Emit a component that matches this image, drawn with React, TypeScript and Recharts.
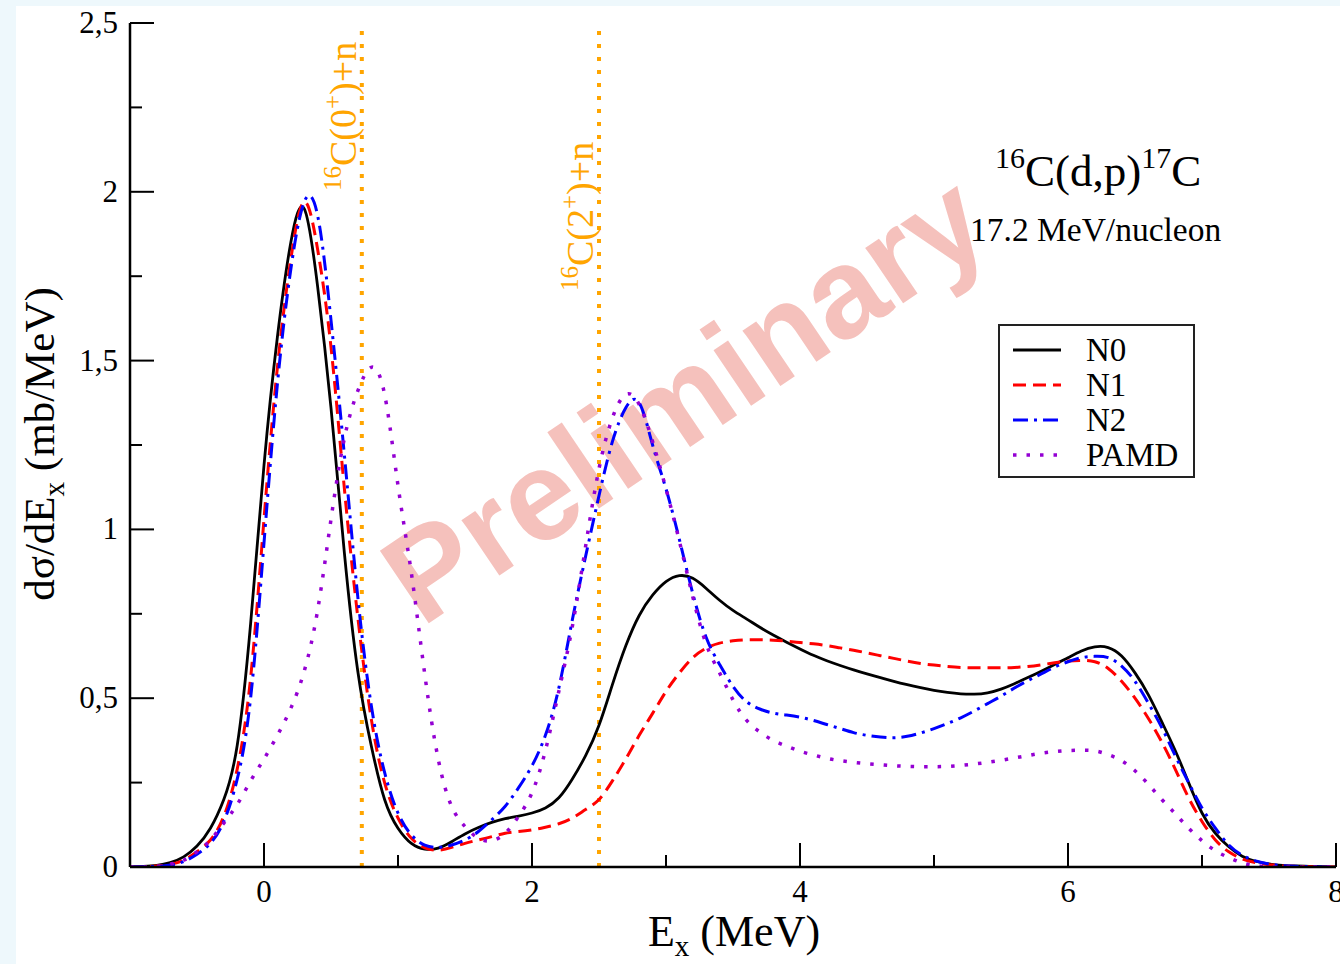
import React from 'react';
import { LineChart, Line, XAxis, YAxis, ReferenceLine, Legend, Customized } from 'recharts';

// Excitation energy grid (MeV)
const energy = [
  -1.0, -0.9, -0.8, -0.7, -0.6, -0.5, -0.4, -0.3, -0.2, -0.1,
  0.0, 0.1, 0.2, 0.3, 0.4, 0.5, 0.6, 0.7, 0.8, 0.9,
  1.0, 1.1, 1.2, 1.3, 1.4, 1.5, 1.6, 1.7, 1.8, 1.9,
  2.0, 2.1, 2.2, 2.3, 2.4, 2.5, 2.6, 2.7, 2.8, 2.9,
  3.0, 3.1, 3.2, 3.3, 3.4, 3.5, 3.6, 3.7, 3.8, 3.9,
  4.0, 4.1, 4.2, 4.3, 4.4, 4.5, 4.6, 4.7, 4.8, 4.9,
  5.0, 5.1, 5.2, 5.3, 5.4, 5.5, 5.6, 5.7, 5.8, 5.9,
  6.0, 6.1, 6.2, 6.3, 6.4, 6.5, 6.6, 6.7, 6.8, 6.9,
  7.0, 7.1, 7.2, 7.3, 7.4, 7.5, 7.6, 7.7, 7.8, 7.9,
  8.0,
];

const n0 = [
  0, 0.002, 0.005, 0.013, 0.03, 0.062, 0.115, 0.20, 0.36, 0.72,
  1.19, 1.57, 1.85, 1.95, 1.72, 1.36, 0.93, 0.58, 0.36, 0.20,
  0.115, 0.07, 0.053, 0.056, 0.075, 0.098, 0.117, 0.132, 0.143, 0.151,
  0.16, 0.175, 0.205, 0.26, 0.33, 0.42, 0.54, 0.655, 0.745, 0.805,
  0.845, 0.863, 0.855, 0.825, 0.79, 0.76, 0.735, 0.71, 0.687, 0.666,
  0.646, 0.627, 0.611, 0.597, 0.584, 0.572, 0.561, 0.55, 0.54, 0.531,
  0.523, 0.517, 0.513, 0.512, 0.516, 0.527, 0.543, 0.561, 0.58, 0.60,
  0.62, 0.64, 0.652, 0.65, 0.625, 0.575, 0.51, 0.43, 0.345, 0.25,
  0.16, 0.10, 0.06, 0.032, 0.017, 0.009, 0.005, 0.003, 0.002, 0.001,
  0,
];

const n1 = [
  0, 0.001, 0.003, 0.008, 0.02, 0.045, 0.08, 0.15, 0.29, 0.56,
  1.03, 1.48, 1.80, 1.97, 1.83, 1.54, 1.12, 0.74, 0.44, 0.25,
  0.145, 0.085, 0.057, 0.05, 0.058, 0.07, 0.08, 0.09, 0.10, 0.105,
  0.11, 0.118, 0.128, 0.145, 0.17, 0.20, 0.255, 0.32, 0.39, 0.455,
  0.52, 0.575, 0.62, 0.648, 0.663, 0.67, 0.673, 0.673, 0.672, 0.669,
  0.665, 0.661, 0.656, 0.649, 0.642, 0.634, 0.626, 0.618, 0.61, 0.603,
  0.598, 0.594, 0.591, 0.59, 0.59, 0.59, 0.591, 0.594, 0.599, 0.605,
  0.61, 0.612, 0.608, 0.588, 0.55, 0.50, 0.44, 0.37, 0.29, 0.205,
  0.135, 0.08, 0.045, 0.024, 0.013, 0.007, 0.003, 0.002, 0.001, 0,
  0,
];

const n2 = [
  0, 0.001, 0.002, 0.006, 0.016, 0.038, 0.07, 0.135, 0.26, 0.50,
  0.96, 1.43, 1.77, 1.97, 1.93, 1.62, 1.22, 0.80, 0.48, 0.28,
  0.16, 0.095, 0.065, 0.058, 0.065, 0.08, 0.105, 0.14, 0.18, 0.235,
  0.30, 0.39, 0.53, 0.73, 0.92, 1.10, 1.26, 1.36, 1.375, 1.25,
  1.12, 0.97, 0.81, 0.68, 0.60, 0.535, 0.49, 0.468, 0.456, 0.45,
  0.444, 0.434, 0.422, 0.41, 0.398, 0.39, 0.385, 0.383, 0.387, 0.397,
  0.41, 0.425, 0.442, 0.462, 0.484, 0.506, 0.53, 0.552, 0.572, 0.592,
  0.608, 0.62, 0.624, 0.62, 0.595, 0.55, 0.485, 0.413, 0.33, 0.25,
  0.175, 0.115, 0.065, 0.035, 0.018, 0.009, 0.004, 0.002, 0.001, 0,
  0,
];

const pamd = [
  0, 0, 0.002, 0.008, 0.02, 0.045, 0.08, 0.13, 0.185, 0.255,
  0.32, 0.39, 0.47, 0.58, 0.76, 1.03, 1.27, 1.41, 1.48, 1.40,
  1.13, 0.87, 0.57, 0.32, 0.18, 0.12, 0.085, 0.078, 0.10, 0.15,
  0.22, 0.345, 0.52, 0.71, 0.95, 1.18, 1.33, 1.40, 1.37, 1.26,
  1.12, 0.965, 0.80, 0.66, 0.575, 0.495, 0.435, 0.40, 0.375, 0.358,
  0.343, 0.332, 0.322, 0.315, 0.31, 0.306, 0.303, 0.30, 0.298, 0.297,
  0.297, 0.298, 0.301, 0.305, 0.31, 0.316, 0.323, 0.33, 0.337, 0.342,
  0.345, 0.346, 0.344, 0.333, 0.315, 0.285, 0.245, 0.20, 0.158, 0.115,
  0.078, 0.048, 0.028, 0.012, 0.004, 0.001, 0, 0, 0, 0,
  0,
];

const xTicks = [-1, 0, 1, 2, 3, 4, 5, 6, 7, 8];
const yTicks = [0, 0.25, 0.5, 0.75, 1, 1.25, 1.5, 1.75, 2, 2.25, 2.5];
const thresholds = [0.73, 2.5];
const thresholdLabels = [['16', 'C(0', '+', ')+n'], ['16', 'C(2', '+', ')+n']];

const seriesNames = ['N0', 'N1', 'N2', 'PAMD'];
const seriesKeys = ['n0', 'n1', 'n2', 'pamd'];
const seriesColors = ['#000000', '#ff0000', '#0000ff', '#9400d3'];
const seriesDashes = ['', '13 7', '15 6 3 6', '3.5 10'];
const seriesWidths = [2.8, 3, 3, 3.5];

const SERIF = '"Liberation Serif", "Times New Roman", serif';
const SANS = '"Liberation Sans", Arial, sans-serif';

const isMajorX = (v: number) => Math.abs(v % 2) < 1e-9;
const isMajorY = (v: number) => Math.abs((v * 2) % 1) < 1e-9;
const fmtY = (v: number) => String(v).replace('.', ',');

const BottomTick = (props: any) => {
  const { x, y, payload } = props;
  const v = payload.value;
  const major = isMajorX(v);
  return (
    <g>
      <line x1={x} y1={y} x2={x} y2={y - (major ? 24 : 12)} stroke="#000" strokeWidth={2} />
      {major && (
        <text x={x} y={y + 35} textAnchor="middle" fontSize={31} fontFamily={SERIF} fill="#000">
          {v}
        </text>
      )}
    </g>
  );
};

const TopTick = (props: any) => {
  const { x, y, payload } = props;
  const major = isMajorX(payload.value);
  return <line x1={x} y1={y} x2={x} y2={y + (major ? 24 : 12)} stroke="#000" strokeWidth={2} />;
};

const LeftTick = (props: any) => {
  const { x, y, payload } = props;
  const v = payload.value;
  const major = isMajorY(v);
  return (
    <g>
      <line x1={x} y1={y} x2={x + (major ? 24 : 12)} y2={y} stroke="#000" strokeWidth={2} />
      {major && (
        <text x={x - 12} y={y + 10} textAnchor="end" fontSize={31} fontFamily={SERIF} fill="#000">
          {fmtY(v)}
        </text>
      )}
    </g>
  );
};

const RightTick = (props: any) => {
  const { x, y, payload } = props;
  const major = isMajorY(payload.value);
  return <line x1={x} y1={y} x2={x - (major ? 24 : 12)} y2={y} stroke="#000" strokeWidth={2} />;
};

const thresholdLabel = (parts: string[], dyStart: number) => (props: any) => {
  const vb = props.viewBox || {};
  const x = (vb.x ?? 0) - 6;
  const y = (vb.y ?? 0) + dyStart;
  return (
    <text
      transform={`translate(${x},${y}) rotate(-90)`}
      fontFamily={SERIF}
      fontSize={38}
      fill="#ffa500"
    >
      <tspan fontSize={25} dy={-15}>{parts[0]}</tspan>
      <tspan dy={15}>{parts[1]}</tspan>
      <tspan fontSize={25} dy={-15}>{parts[2]}</tspan>
      <tspan dy={15}>{parts[3]}</tspan>
    </text>
  );
};

const Annotations = () => (
  <g>
    <text x={979} y={180} fontFamily={SERIF} fontSize={45} fill="#000">
      <tspan fontSize={30} dy={-18}>16</tspan>
      <tspan dy={18}>C(d,p)</tspan>
      <tspan fontSize={30} dy={-18}>17</tspan>
      <tspan dy={18}>C</tspan>
    </text>
    <text x={954} y={235} fontFamily={SERIF} fontSize={33.5} fill="#000">
      17.2 MeV/nucleon
    </text>
    <text x={718} y={940} textAnchor="middle" fontFamily={SERIF} fontSize={44} fill="#000">
      E<tspan fontSize={29} dy={10}>x</tspan>
      <tspan dy={-10}> (MeV)</tspan>
    </text>
    <text
      transform="translate(38,438) rotate(-90)"
      textAnchor="middle"
      fontFamily={SERIF}
      fontSize={43}
      fill="#000"
    >
      dσ/dE<tspan fontSize={29} dy={10}>x</tspan>
      <tspan dy={-10}> (mb/MeV)</tspan>
    </text>
  </g>
);

const Watermark = () => (
  <text
    transform="translate(668,392) rotate(-34)"
    textAnchor="middle"
    dominantBaseline="central"
    fontFamily={SANS}
    fontWeight="bold"
    fontSize={127}
    fill="#f5c1bc"
  >
    Preliminary
  </text>
);

const LegendBox = () => (
  <svg width={197} height={155} style={{ display: 'block' }}>
    <rect x={1} y={1} width={195} height={152} fill="#fff" stroke="#222" strokeWidth={2} />
    {seriesNames.map((name, i) => {
      const cy = 26 + i * 35;
      return (
        <g key={name}>
          <line
            x1={15}
            x2={63}
            y1={cy}
            y2={cy}
            stroke={seriesColors[i]}
            strokeWidth={seriesWidths[i]}
            strokeDasharray={seriesDashes[i] || undefined}
          />
          <text x={88} y={cy + 11} fontFamily={SERIF} fontSize={33} fill="#000">
            {name}
          </text>
        </g>
      );
    })}
  </svg>
);

export default function App() {
  const data = energy.map((e, i) => ({ e, n0: n0[i], n1: n1[i], n2: n2[i], pamd: pamd[i] }));
  return (
    <div style={{ position: 'fixed', left: 0, top: 0, width: 1340, height: 964, background: '#eef8fc', overflow: 'hidden' }}>
      <div style={{ position: 'absolute', left: 16, top: 6, width: 1324, height: 958, background: '#ffffff' }}>
        <LineChart width={1324} height={958} data={data} margin={{ top: 17, right: 4, bottom: 0, left: 0 }}>
          <Customized component={Watermark} />
          <XAxis
            xAxisId="b"
            dataKey="e"
            type="number"
            domain={[-1, 8]}
            allowDataOverflow
            ticks={xTicks}
            interval={0}
            height={97}
            tickSize={0}
            tickMargin={0}
            tickLine={false}
            axisLine={{ stroke: '#000', strokeWidth: 2.5 }}
            tick={BottomTick}
          />
          <XAxis
            xAxisId="t"
            dataKey="e"
            type="number"
            orientation="top"
            domain={[-1, 8]}
            allowDataOverflow
            ticks={xTicks}
            interval={0}
            height={0}
            tickSize={0}
            tickMargin={0}
            tickLine={false}
            axisLine={{ stroke: '#000', strokeWidth: 2.5 }}
            tick={TopTick}
          />
          <YAxis
            yAxisId="l"
            type="number"
            domain={[0, 2.5]}
            allowDataOverflow
            ticks={yTicks}
            interval={0}
            width={114}
            tickSize={0}
            tickMargin={0}
            tickLine={false}
            axisLine={{ stroke: '#000', strokeWidth: 2.5 }}
            tick={LeftTick}
          />
          <YAxis
            yAxisId="r"
            type="number"
            orientation="right"
            domain={[0, 2.5]}
            allowDataOverflow
            ticks={yTicks}
            interval={0}
            width={0}
            tickSize={0}
            tickMargin={0}
            tickLine={false}
            axisLine={{ stroke: '#000', strokeWidth: 2.5 }}
            tick={RightTick}
          />
          {thresholds.map((t, i) => (
            <ReferenceLine
              key={t}
              x={t}
              xAxisId="b"
              yAxisId="l"
              stroke="#ffa500"
              strokeWidth={4}
              strokeDasharray="4 9"
              label={thresholdLabel(thresholdLabels[i], i === 0 ? 168 : 268)}
            />
          ))}
          {seriesKeys.map((k, i) => (
            <Line
              key={k}
              xAxisId="b"
              yAxisId="l"
              dataKey={k}
              name={seriesNames[i]}
              type="natural"
              stroke={seriesColors[i]}
              strokeWidth={seriesWidths[i]}
              strokeDasharray={seriesDashes[i] || undefined}
              dot={false}
              activeDot={false}
              isAnimationActive={false}
            />
          ))}
          <Customized component={Annotations} />
          <Legend
            layout="vertical"
            align="center"
            verticalAlign="middle"
            wrapperStyle={{ position: 'absolute', left: 982, top: 318, width: 197, height: 155 }}
            content={() => <LegendBox />}
          />
        </LineChart>
      </div>
    </div>
  );
}
